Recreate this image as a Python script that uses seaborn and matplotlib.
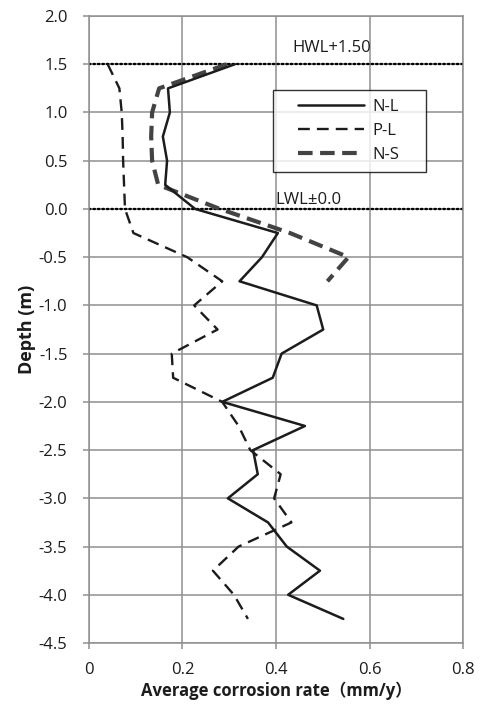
import matplotlib
matplotlib.use("Agg")
import matplotlib.pyplot as plt
from matplotlib.lines import Line2D
from matplotlib.legend_handler import HandlerLine2D
import numpy as np
import pandas as pd
import seaborn as sns

# Depth (m) of each measuring point
depth = [1.5, 1.25, 1.0, 0.75, 0.5, 0.25, 0.0, -0.25, -0.5, -0.75, -1.0, -1.25,
         -1.5, -1.75, -2.0, -2.25, -2.5, -2.75, -3.0, -3.25, -3.5, -3.75, -4.0, -4.25]

# Average corrosion rate (mm/y)
rate_nl = [0.312, 0.169, 0.173, 0.158, 0.167, 0.163, 0.227, 0.404, 0.370, 0.322, 0.487, 0.501,
           0.412, 0.393, 0.285, 0.462, 0.351, 0.361, 0.297, 0.383, 0.423, 0.494, 0.426, 0.544]
rate_pl = [0.040, 0.065, 0.070, 0.072, 0.073, 0.075, 0.077, 0.095, 0.210, 0.285, 0.225, 0.275,
           0.177, 0.180, 0.285, 0.320, 0.345, 0.410, 0.396, 0.433, 0.320, 0.265, 0.310, 0.340]
depth_ns = [1.5, 1.25, 1.0, 0.75, 0.5, 0.25, 0.0, -0.25, -0.5, -0.75]
rate_ns = [0.295, 0.150, 0.135, 0.133, 0.135, 0.148, 0.280, 0.430, 0.555, 0.510]

series_names = ["N-L", "P-L", "N-S"]

x_ticks = [0, 0.2, 0.4, 0.6, 0.8]
x_tick_labels = ["0", "0.2", "0.4", "0.6", "0.8"]
y_ticks = [2.0, 1.5, 1.0, 0.5, 0.0, -0.5, -1.0, -1.5, -2.0, -2.5, -3.0, -3.5, -4.0, -4.5]

sns.set_theme(style="white")
plt.rcParams["font.family"] = ["Open Sans", "Noto Sans CJK JP", "DejaVu Sans"]

fig = plt.figure(figsize=(4.8, 7.05), dpi=100)
ax = fig.add_axes([0.1854, 0.0879, 0.7792, 0.8894])

grid_c = "#8f8f8f"
ink = "#1c1c1c"

df_nl = pd.DataFrame({"rate": rate_nl, "depth": depth})
df_pl = pd.DataFrame({"rate": rate_pl, "depth": depth})
df_ns = pd.DataFrame({"rate": rate_ns, "depth": depth_ns})

sns.lineplot(data=df_nl, x="rate", y="depth", sort=False, estimator=None, ax=ax,
             color=ink, lw=1.8, label=series_names[0], zorder=4)
sns.lineplot(data=df_pl, x="rate", y="depth", sort=False, estimator=None, ax=ax,
             color=ink, lw=1.7, linestyle=(0, (5.0, 3.0)), label=series_names[1], zorder=4)
sns.lineplot(data=df_ns, x="rate", y="depth", sort=False, estimator=None, ax=ax,
             color="#434343", lw=3.0, linestyle=(0, (3.5, 1.8)), label=series_names[2], zorder=3)

# Water levels
for lvl in (1.5, 0.0):
    ax.axhline(lvl, color="black", lw=1.7, linestyle=(0, (0.6, 1.3)),
               dash_capstyle="round", zorder=2)
ax.text(0.434, 1.585, "HWL+1.50", fontsize=12, color=ink, ha="left", va="bottom", zorder=5)
ax.text(0.398, 0.01, "LWL\u00b10.0", fontsize=12, color=ink, ha="left", va="bottom", zorder=5)

ax.set_xlim(0, 0.8)
ax.set_ylim(-4.5, 2.0)
ax.set_xticks(x_ticks)
ax.set_xticklabels(x_tick_labels)
ax.set_yticks(y_ticks)
ax.set_yticklabels([f"{v:.1f}" for v in y_ticks])

ax.grid(True, color=grid_c, lw=1.1)
ax.set_axisbelow(True)
for s in ax.spines.values():
    s.set_color(grid_c)
    s.set_linewidth(1.1)

ax.tick_params(axis="both", which="major", direction="out", length=4.5, width=1.1,
               color=grid_c, labelsize=12, labelcolor=ink, bottom=True, left=True)
ax.tick_params(axis="x", pad=9)
ax.tick_params(axis="y", pad=11)

ax.set_xlabel("Average corrosion rate\uff08mm/y\uff09", fontsize=12, fontweight="bold",
              color=ink, labelpad=3)
ax.set_ylabel("Depth (m)", fontsize=13, fontweight="bold", color=ink, labelpad=2)

leg = ax.legend(loc="upper left", bbox_to_anchor=(0.492, 0.751, 0.409, 0.131), mode="expand",
                frameon=True, fancybox=False, edgecolor="black", fontsize=12,
                handlelength=4.9, handletextpad=0.5, borderpad=0.55, labelspacing=0.48,
                borderaxespad=0, handler_map={Line2D: HandlerLine2D(xpad=0.96)})
leg.get_frame().set_linewidth(1.0)
for t in leg.get_texts():
    t.set_color(ink)

fig.savefig("out.png", dpi=100)
